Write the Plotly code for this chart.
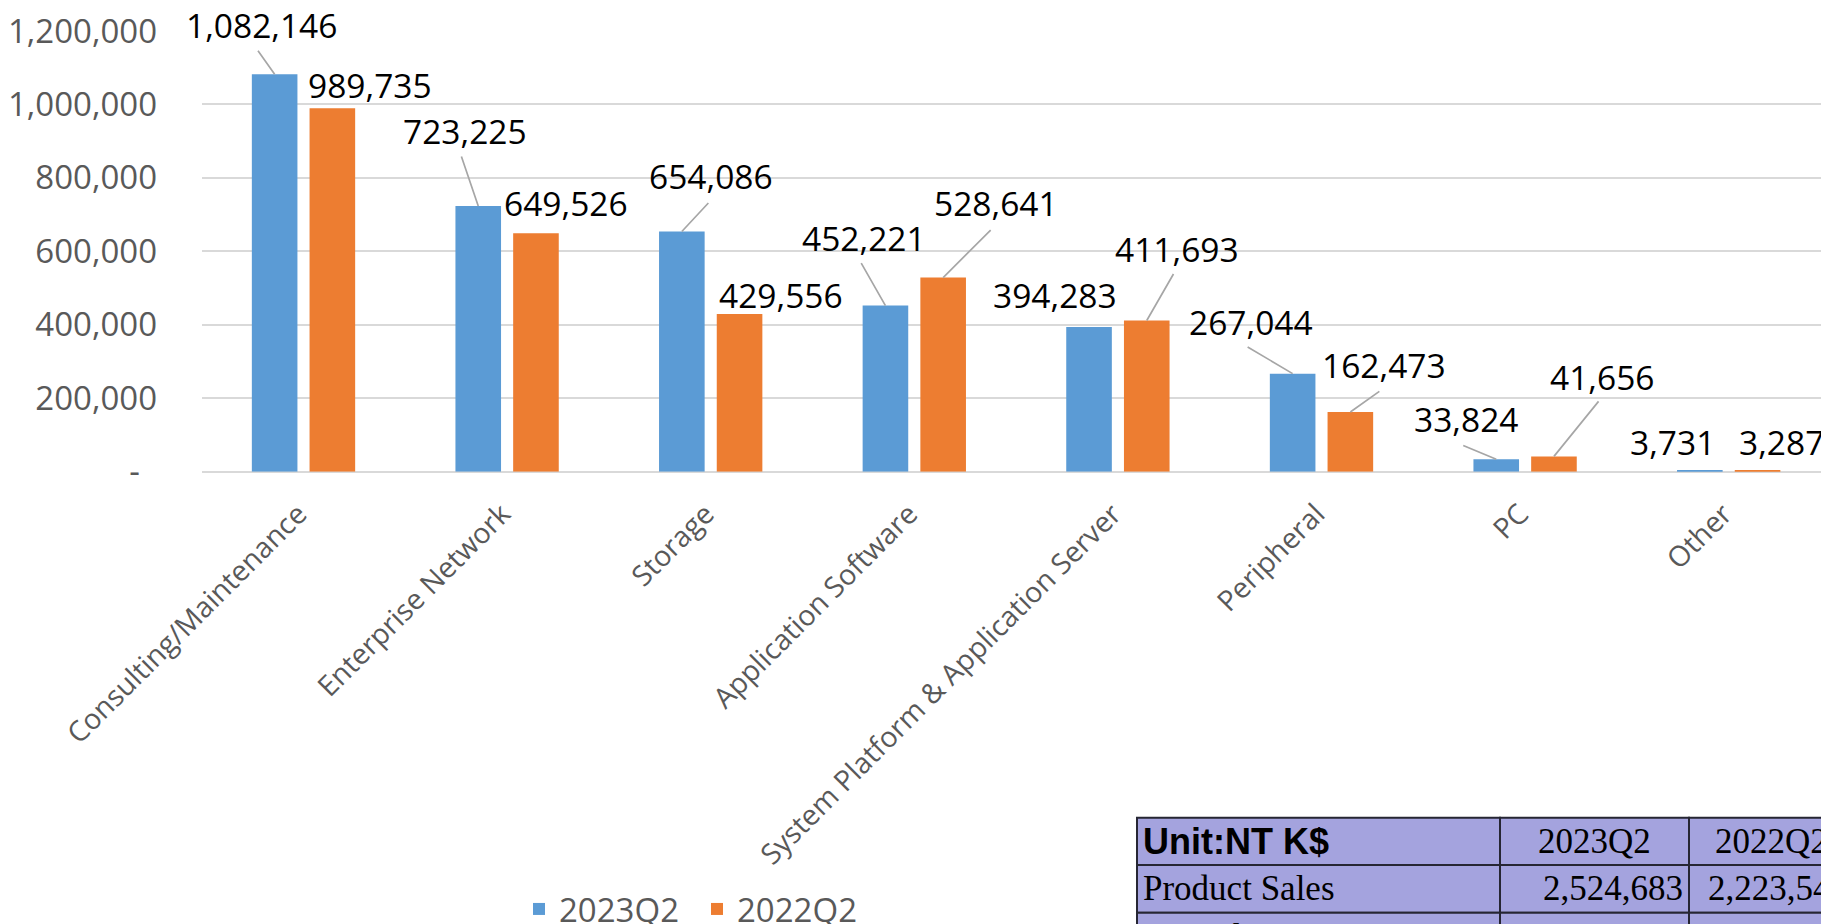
import plotly.graph_objects as go

# ---------------- data ----------------
categories = ["Consulting/Maintenance", "Enterprise Network", "Storage",
              "Application Software", "System Platform & Application Server",
              "Peripheral", "PC", "Other"]
series_names = ["2023Q2", "2022Q2"]
values_2023q2 = [1082146, 723225, 654086, 452221, 394283, 267044, 33824, 3731]
values_2022q2 = [989735, 649526, 429556, 528641, 411693, 162473, 41656, 3287]
y_tick_values = [0, 200000, 400000, 600000, 800000, 1000000, 1200000]
y_tick_labels = ["-\u00a0\u00a0", "200,000", "400,000", "600,000", "800,000",
                 "1,000,000", "1,200,000"]

table_header = ["<b>Unit:NT K$</b>", "2023Q2", "2022Q2"]
table_row_labels = ["Product Sales", "Consulting/Maintenance"]
table_2023q2 = ["2,524,683", "1,082,146"]
table_2022q2 = ["2,223,545", "989,735"]

# ---------------- styles ----------------
BLUE = "#5B9BD5"
ORANGE = "#ED7D31"
GRID = "#D9D9D9"
AXIS_TXT = "#595959"
LEADER = "#A6A6A6"
FONT = "Open Sans"
TBL_FILL = "#A4A3DE"
TBL_LINE = "#262633"
BARGAP = 0.433
BARGROUPGAP = 0.21

W, H = 1829, 924
PAGE = 8  # page body margin in the browser


def PX(sx):
    return (sx - PAGE) / W


def PY(sy):
    return 1 - (sy - PAGE) / H


# label text offsets (px, from bar top centre) and leader-line start offsets
label_off_2023 = [(-13, -49), (-13, -75), (29, -55), (-21, -68), (-34, -32),
                  (-42, -52), (-30, -40), (-27, -28)]
leader_off_2023 = [(-17, -24), (-17, -50), (27, -29), (-24.5, -43), None,
                   (-45.5, -27), (-33.5, -14), None]
label_off_2022 = [(37.5, -23.5), (30.5, -30), (41.5, -19.3), (52.5, -75),
                  (30.7, -72), (33.8, -47), (48.5, -79), (24.4, -28)]
leader_off_2022 = [None, None, None, (48, -48), (27, -47), (29.5, -21),
                   (45, -55.5), None]

# table geometry (screen px)
tbl_col_edges = [1137, 1500, 1689, 1854]
tbl_row_edges = [817.7, 865, 912.7, 960]

fig = go.Figure()
fig.add_trace(go.Bar(name=series_names[0], x=categories, y=values_2023q2,
                     marker=dict(color=BLUE, line=dict(width=0))))
fig.add_trace(go.Bar(name=series_names[1], x=categories, y=values_2022q2,
                     marker=dict(color=ORANGE, line=dict(width=0))))

annotations = []
shapes = []
off = (1 - BARGAP) / 4.0
for sign, vals, loffs, leads in [(-1, values_2023q2, label_off_2023, leader_off_2023),
                                 (1, values_2022q2, label_off_2022, leader_off_2022)]:
    for i, v in enumerate(vals):
        xpos = i + sign * off
        dx, dy = loffs[i]
        annotations.append(dict(x=xpos, y=v, xref="x", yref="y", text=f"{v:,}",
                                showarrow=False, xshift=dx, yshift=-dy,
                                xanchor="center", yanchor="middle",
                                font=dict(family=FONT, size=33.5, color="black")))
        if leads[i] is not None:
            lx, ly = leads[i]
            annotations.append(dict(x=xpos, y=v, xref="x", yref="y", text="",
                                    showarrow=True, ax=lx, ay=ly, axref="pixel", ayref="pixel",
                                    arrowhead=0, arrowwidth=1.7, arrowcolor=LEADER,
                                    standoff=0, startstandoff=0, borderpad=0))

# ---------------- table (drawn as cells) ----------------
table_rows = [table_header] + [[a, b, c] for a, b, c in zip(table_row_labels, table_2023q2, table_2022q2)]
for r, row in enumerate(table_rows):
    y0, y1 = tbl_row_edges[r], tbl_row_edges[r + 1]
    for c, txt in enumerate(row):
        x0, x1 = tbl_col_edges[c], tbl_col_edges[c + 1]
        shapes.append(dict(type="rect", xref="paper", yref="paper",
                           x0=PX(x0), x1=PX(x1), y0=PY(y1), y1=PY(y0),
                           fillcolor=TBL_FILL, line=dict(color=TBL_LINE, width=2),
                           layer="above"))
        if c == 0:
            xa, anchor = x0 + 4, "left"
        elif r == 0:
            xa, anchor = (x0 + x1) / 2, "center"
        else:
            xa, anchor = x1 - 4, "right"
        fam = "Liberation Sans" if (r == 0 and c == 0) else "Liberation Serif"
        size = 36 if (r == 0 and c == 0) else 35
        annotations.append(dict(x=PX(xa), y=PY((y0 + y1) / 2), xref="paper", yref="paper",
                                text=txt, showarrow=False, xanchor=anchor, yanchor="middle",
                                font=dict(family=fam, size=size, color="black")))

fig.update_layout(
    template="none",
    width=W, height=H,
    margin=dict(l=0, r=0, t=0, b=0, autoexpand=False),
    paper_bgcolor="white", plot_bgcolor="white",
    barmode="group", bargap=BARGAP, bargroupgap=BARGROUPGAP,
    font=dict(family=FONT, color=AXIS_TXT),
    xaxis=dict(domain=[PX(201.7), PX(1830.5)], type="category", tickangle=-45,
               tickfont=dict(family=FONT, size=28.5, color=AXIS_TXT),
               showgrid=False, showline=False, ticks="", automargin=False,
               ticklabelstandoff=19, ticklabelshift=-5, range=[-0.5, 7.5]),
    yaxis=dict(domain=[PY(471.7), PY(31)], range=[0, 1200000],
               tickvals=y_tick_values, ticktext=y_tick_labels,
               tickfont=dict(family=FONT, size=33, color=AXIS_TXT),
               showgrid=True, gridcolor=GRID, gridwidth=1.7,
               zeroline=True, zerolinecolor=GRID, zerolinewidth=2,
               showline=False, ticks="outside", ticklen=37,
               tickcolor="rgba(0,0,0,0)", automargin=False,
               ticklabeloverflow="allow"),
    legend=dict(orientation="h", x=PX(519), xanchor="left", y=PY(909),
                yanchor="middle", entrywidth=133,
                font=dict(family=FONT, size=33, color=AXIS_TXT),
                bgcolor="rgba(0,0,0,0)"),
    annotations=annotations,
    shapes=shapes,
)

fig.write_html("out.html")
